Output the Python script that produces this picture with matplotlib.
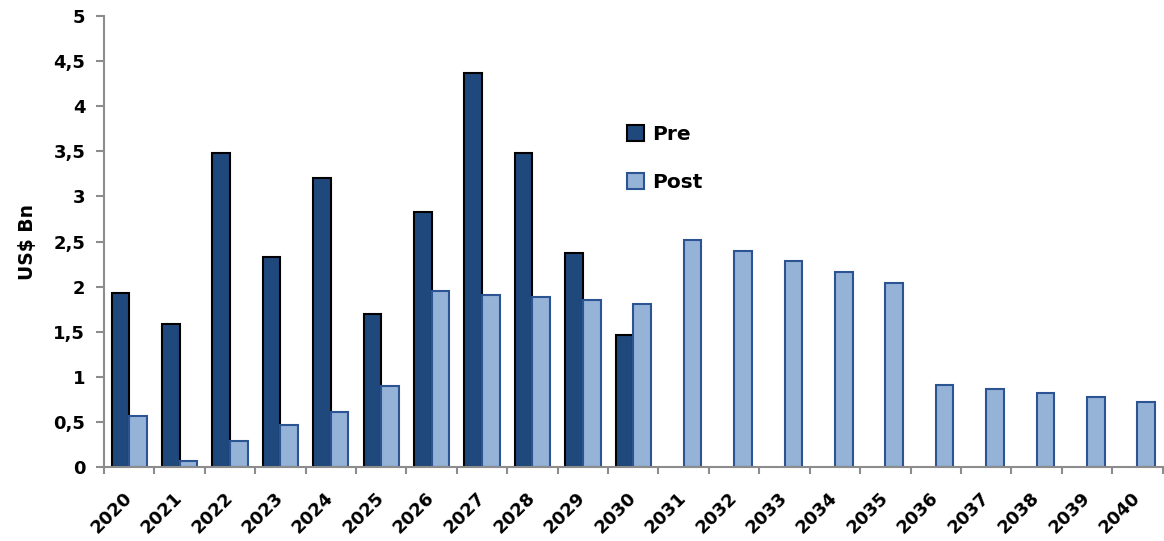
import numpy as np
import matplotlib
matplotlib.use("Agg")
import matplotlib.pyplot as plt
from matplotlib.ticker import FixedLocator, FuncFormatter

plt.rcParams['font.family'] = ['DejaVu Sans']
plt.rcParams['font.weight'] = 'bold'

years = [str(y) for y in range(2020, 2041)]
pre = [1.93, 1.59, 3.48, 2.33, 3.20, 1.70, 2.83, 4.365, 3.48, 2.37, 1.46,
       0, 0, 0, 0, 0, 0, 0, 0, 0, 0]
post = [0.57, 0.07, 0.285, 0.47, 0.61, 0.90, 1.95, 1.91, 1.88, 1.85, 1.805,
        2.515, 2.40, 2.28, 2.16, 2.04, 0.914, 0.862, 0.818, 0.773, 0.72]
n_pre = 11  # pre series stops at 2030

fig = plt.figure(figsize=(11.64, 5.41), dpi=100)
ax = fig.add_axes([0.0893, 0.1368, 0.9095, 0.8336])

x = np.arange(len(years))
w = 0.35
ax.bar(x[:n_pre] - w / 2, pre[:n_pre], w, color='#1f497d', edgecolor='black',
       linewidth=1.5, label='Pre', zorder=2)
ax.bar(x + w / 2, post, w, color='#95b3d7', edgecolor='#2c5493',
       linewidth=1.5, label='Post', zorder=2)

ax.set_xlim(-0.5, len(years) - 0.5)
ax.set_ylim(0, 5)
ax.set_yticks(np.arange(0, 5.01, 0.5))
ax.yaxis.set_major_formatter(FuncFormatter(
    lambda v, p: ('%g' % v).replace('.', ',')))

ax.set_xticks(x)
ax.set_xticklabels(years, rotation=45, ha='right', va='center',
                   rotation_mode='anchor', fontsize=13, fontweight='bold')
ax.xaxis.set_minor_locator(FixedLocator(np.arange(-0.5, len(years), 1)))
ax.tick_params(axis='x', which='major', length=0, pad=20)
ax.tick_params(axis='x', which='minor', length=5, width=1.5, color='#8c8c8c')
ax.tick_params(axis='y', length=5.5, width=1.5, color='#8c8c8c', labelsize=13, pad=8)
for lab in ax.get_yticklabels():
    lab.set_fontweight('bold')

for s in ['top', 'right']:
    ax.spines[s].set_visible(False)
for s in ['left', 'bottom']:
    ax.spines[s].set_color('#8c8c8c')
    ax.spines[s].set_linewidth(1.5)

ax.set_ylabel('US$ Bn', fontsize=13.5, fontweight='bold', labelpad=12)

leg = ax.legend(loc='upper left', bbox_to_anchor=(0.486, 0.777), frameon=False,
                fontsize=14.5, labelspacing=1.45, handlelength=0.85,
                handleheight=0.85, handletextpad=0.4, borderaxespad=0)
for t in leg.get_texts():
    t.set_fontweight('bold')

fig.savefig('out.png', dpi=100)
